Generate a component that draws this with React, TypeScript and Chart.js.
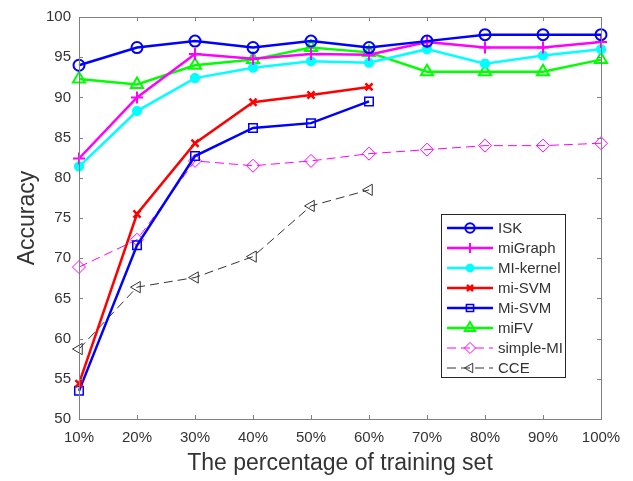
import React, { useEffect, useRef } from "react";
import { Chart, registerables } from "chart.js";
import { drawPoint } from "chart.js/helpers";

Chart.register(...registerables);

const categories = ["10%", "20%", "30%", "40%", "50%", "60%", "70%", "80%", "90%", "100%"];
const isk = [94.0, 96.2, 97.0, 96.2, 97.0, 96.2, 97.0, 97.8, 97.8, 97.8];
const miGraph = [82.4, 90.0, 95.4, 94.8, 95.4, 95.3, 96.9, 96.2, 96.2, 96.9];
const miKernel = [81.4, 88.3, 92.4, 93.7, 94.5, 94.3, 96.0, 94.2, 95.2, 96.0];
const miSVM = [54.4, 75.5, 84.3, 89.4, 90.3, 91.3];
const MiSVM = [53.5, 71.6, 82.7, 86.2, 86.8, 89.5];
const miFV = [92.3, 91.6, 94.0, 94.7, 96.2, 95.6, 93.2, 93.2, 93.2, 94.7];
const simpleMI = [68.9, 72.3, 82.1, 81.5, 82.1, 83.0, 83.5, 84.0, 84.0, 84.3];
const cce = [58.7, 66.4, 67.6, 70.2, 76.5, 78.5];
const yTicks = [50, 55, 60, 65, 70, 75, 80, 85, 90, 95, 100];

const FONT = "'Liberation Sans', Arial, Helvetica, sans-serif";
const TEXT = "#333333";
const AXIS = "#808080";

const boxPlugin = {
  id: "matlabBox",
  afterDatasetsDraw(chart: any) {
    const { ctx, chartArea: a, scales } = chart;
    ctx.save();
    ctx.strokeStyle = AXIS;
    ctx.lineWidth = 1;
    ctx.strokeRect(a.left + 0.5, a.top + 0.5, a.right - a.left, a.bottom - a.top);
    const tl = 4;
    ctx.beginPath();
    scales.x.ticks.forEach((_t: any, i: number) => {
      const x = Math.round(scales.x.getPixelForTick(i)) + 0.5;
      ctx.moveTo(x, a.bottom);
      ctx.lineTo(x, a.bottom - tl);
      ctx.moveTo(x, a.top);
      ctx.lineTo(x, a.top + tl);
    });
    scales.y.ticks.forEach((_t: any, i: number) => {
      const y = Math.round(scales.y.getPixelForTick(i)) + 0.5;
      ctx.moveTo(a.left, y);
      ctx.lineTo(a.left + tl, y);
      ctx.moveTo(a.right, y);
      ctx.lineTo(a.right - tl, y);
    });
    ctx.stroke();
    ctx.restore();
  },
  afterDraw(chart: any) {
    const { ctx } = chart;
    const lx = 441, ly = 214, lw = 124, lh = 163;
    ctx.save();
    ctx.fillStyle = "#ffffff";
    ctx.fillRect(lx, ly, lw, lh);
    ctx.strokeStyle = "#262626";
    ctx.lineWidth = 1;
    ctx.strokeRect(lx + 0.5, ly + 0.5, lw, lh);
    chart.data.datasets.forEach((ds: any, i: number) => {
      const cy = ly + 14 + i * 20;
      const x0 = lx + 6, x1 = lx + 52;
      ctx.save();
      ctx.strokeStyle = ds.borderColor;
      ctx.lineWidth = ds.borderWidth;
      ctx.setLineDash(ds.borderDash || []);
      ctx.beginPath();
      ctx.moveTo(x0, cy);
      ctx.lineTo(x1, cy);
      ctx.stroke();
      ctx.setLineDash([]);
      ctx.lineWidth = ds.pointBorderWidth;
      ctx.fillStyle = ds.pointBackgroundColor;
      ctx.strokeStyle = ds.pointBorderColor;
      drawPoint(ctx, {
        pointStyle: ds.pointStyle,
        rotation: ds.pointRotation || 0,
        radius: ds.pointRadius * 0.85,
        borderWidth: ds.pointBorderWidth,
      } as any, (x0 + x1) / 2, cy);
      ctx.restore();
      ctx.fillStyle = TEXT;
      ctx.font = "15px " + FONT;
      ctx.textBaseline = "middle";
      ctx.fillText(ds.label, x1 + 5, cy + 1);
    });
    ctx.restore();
  },
};

function mk(label: string, data: number[], color: string, style: string, opts: any = {}) {
  return {
    label,
    data,
    borderColor: color,
    backgroundColor: color,
    borderWidth: 2.5,
    pointStyle: style,
    pointRadius: 6,
    pointBorderWidth: 2,
    pointBorderColor: color,
    pointBackgroundColor: "rgba(0,0,0,0)",
    tension: 0,
    fill: false,
    ...opts,
  };
}

export default function App() {
  const ref = useRef<HTMLCanvasElement>(null);
  useEffect(() => {
    if (!ref.current) return;
    const chart = new Chart(ref.current, {
      type: "line",
      data: {
        labels: categories,
        datasets: [
          mk("ISK", isk, "#0000ff", "circle", { pointRadius: 5.5 }),
          mk("miGraph", miGraph, "#ff00ff", "cross", { pointRadius: 6 }),
          mk("MI-kernel", miKernel, "#00ffff", "star", { pointRadius: 5, pointBorderWidth: 3.5, pointBackgroundColor: "#00ffff" }),
          mk("mi-SVM", miSVM, "#ff0000", "crossRot", { pointRadius: 5, pointBorderWidth: 2.5 }),
          mk("Mi-SVM", MiSVM, "#0000ff", "rect", { pointRadius: 6, pointBorderWidth: 1.5 }),
          mk("miFV", miFV, "#00ff00", "triangle", { pointRadius: 7 }),
          mk("simple-MI", simpleMI, "#ff00ff", "rectRot", { borderWidth: 1, borderDash: [9, 5], pointRadius: 6.5, pointBorderWidth: 1 }),
          mk("CCE", cce, "#333333", "triangle", { borderWidth: 1, borderDash: [9, 5], pointRadius: 6.5, pointBorderWidth: 1, pointRotation: 270 }),
        ],
      },
      options: {
        animation: false,
        responsive: false,
        devicePixelRatio: 1,
        layout: { padding: { left: 0, right: 32, top: 11, bottom: 0 } },
        plugins: { legend: { display: false }, tooltip: { enabled: false } },
        scales: {
          x: {
            type: "category",
            offset: false,
            grid: { display: false, drawTicks: false },
            border: { display: false },
            ticks: { color: TEXT, font: { family: FONT, size: 15 }, padding: 10, maxRotation: 0, autoSkip: false },
            title: { display: true, text: "The percentage of training set", color: TEXT, font: { family: FONT, size: 23 }, padding: { top: 4, bottom: 4 } },
            afterFit: (s: any) => { s.height = 62; },
          },
          y: {
            min: 50,
            max: 100,
            afterBuildTicks: (s: any) => { s.ticks = yTicks.map((v) => ({ value: v })); },
            grid: { display: false, drawTicks: false },
            border: { display: false },
            ticks: { color: TEXT, font: { family: FONT, size: 15 }, padding: 8 },
            title: { display: true, text: "Accuracy", color: TEXT, font: { family: FONT, size: 23 }, padding: { top: 14, bottom: 14 } },
            afterFit: (s: any) => { s.width = 79; },
          },
        },
      },
      plugins: [boxPlugin],
    });
    return () => chart.destroy();
  }, []);
  return (
    <div style={{ position: "absolute", left: 0, top: 0, width: 633, height: 481, background: "#fff" }}>
      <canvas ref={ref} width={633} height={481} style={{ width: 633, height: 481 }} />
    </div>
  );
}
